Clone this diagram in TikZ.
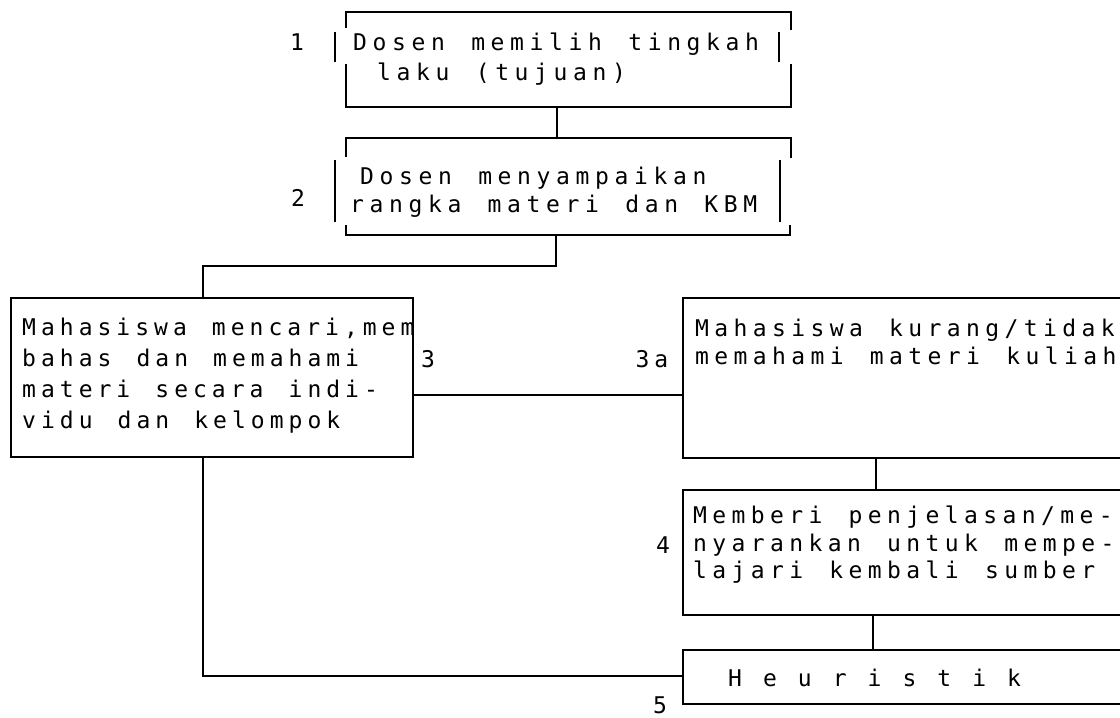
\documentclass[tikz,border=0pt]{standalone}
\usepackage{fontspec}
\newfontfamily\dmA[LetterSpace=21.8,WordSpace={1.33,0,0}]{DejaVu Sans Mono}
\newfontfamily\dmB[LetterSpace=24.5,WordSpace={1.35,0,0}]{DejaVu Sans Mono}
\newfontfamily\dmC[LetterSpace=23.5,WordSpace={1.36,0,0}]{DejaVu Sans Mono}
\newfontfamily\dmD[LetterSpace=16,WordSpace={1.2,0,0}]{DejaVu Sans Mono}
\tikzset{
  box/.style={draw, line width=1.2pt, inner sep=0pt, rectangle},
  ghost/.style={inner sep=0pt, rectangle},
  edge/.style={line width=1.2pt},
  conn/.style={line width=1.2pt},
  txt/.style={inner sep=0pt, anchor=base west, font={\dmA\fontsize{23}{28}\selectfont}},
  txtw/.style={txt, font={\dmB\fontsize{23}{28}\selectfont}},
  txtm/.style={txt, font={\dmC\fontsize{23}{28}\selectfont}},
  txtn/.style={txt, font={\dmD\fontsize{23}{28}\selectfont}},
  lbl/.style={inner sep=0pt, font={\dmA\fontsize{23}{28}\selectfont}},
}
\begin{document}
\begin{tikzpicture}[x=1pt,y=-1pt]
\useasboundingbox (0,0) rectangle (1120,718);
\clip (0,0) rectangle (1120,718);
\fill[white] (0,0) rectangle (1120,718);

% box 1 (bracket style edges)
\node[ghost, minimum width=445pt, minimum height=95pt] (b1) at (568.5,59.5) {};
\draw[edge] (346,28) |- (791,12) -- (791,30);
\draw[edge] (335,32) -- (335,62);
\draw[edge] (779,32) -- (779,62);
\draw[edge] (346,64) |- (791,107) -- (791,64);
\node[txtw] (t1a) at (353,50) {Dosen memilih tingkah};
\node[txtw] (t1b) at (377,80) {laku (tujuan)};

% box 2
\node[ghost, minimum width=445pt, minimum height=97pt] (b2) at (568.5,186.5) {};
\draw[edge] (346,157) |- (791,138) -- (791,158);
\draw[edge] (335,160) -- (335,222);
\draw[edge] (780,160) -- (780,222);
\draw[edge] (346,225) |- (790,235) -- (790,225);
\node[txtw] (t2a) at (360,184) {Dosen menyampaikan};
\node[txtw] (t2b) at (350,212) {rangka materi dan KBM};

% box 3
\node[box, minimum width=402pt, minimum height=159pt] (b3) at (212,377.5) {};
\node[txt] (t3a) at (22,335) {Mahasiswa mencari,mem};
\node[txt] (t3b) at (22,366) {bahas dan memahami};
\node[txt] (t3c) at (22,397) {materi secara indi-};
\node[txt] (t3d) at (22,428) {vidu dan kelompok};

% box 3a
\node[box, minimum width=441pt, minimum height=160pt] (b3a) at (903.5,378) {};
\node[txtm] (t3aa) at (695,336) {Mahasiswa kurang/tidak};
\node[txtm] (t3ab) at (695,364) {memahami materi kuliah};

% box 4
\node[box, minimum width=441pt, minimum height=125pt] (b4) at (903.5,552.5) {};
\node[txtm] (t4a) at (693,523) {Memberi penjelasan/me-};
\node[txtm] (t4b) at (693,551) {nyarankan untuk mempe-};
\node[txtm] (t4c) at (693,578) {lajari kembali sumber};

% box 5
\node[box, minimum width=441pt, minimum height=54pt] (b5) at (903.5,677) {};
\node[txtn] (t5) at (728,686) {H e u r i s t i k};

% labels
\node[lbl] (l1) at (297,42) {1};
\node[lbl] (l2) at (298,198) {2};
\node[lbl] (l3) at (428,359) {3};
\node[lbl] (l3a) at (652,359) {3a};
\node[lbl] (l4) at (663,545) {4};
\node[lbl] (l5) at (660,705) {5};

% connectors
\coordinate (k12) at (557,0);
\draw[conn] (b1.south -| k12) -- (b2.north -| k12);
\coordinate (j2) at (556,266);
\coordinate (j3) at (203,266);
\draw[conn] (b2.south -| j2) -- (j2) -- (j3) -- (b3.north -| j3);
\coordinate (j33) at (0,395);
\draw[conn] (b3.east |- j33) -- (b3a.west |- j33);
\coordinate (k34) at (876,0);
\draw[conn] (b3a.south -| k34) -- (b4.north -| k34);
\coordinate (k45) at (873,0);
\draw[conn] (b4.south -| k45) -- (b5.north -| k45);
\coordinate (j5) at (203,676);
\draw[conn] (b3.south -| j5) -- (j5) -- (b5.west |- j5);
\end{tikzpicture}
\end{document}
